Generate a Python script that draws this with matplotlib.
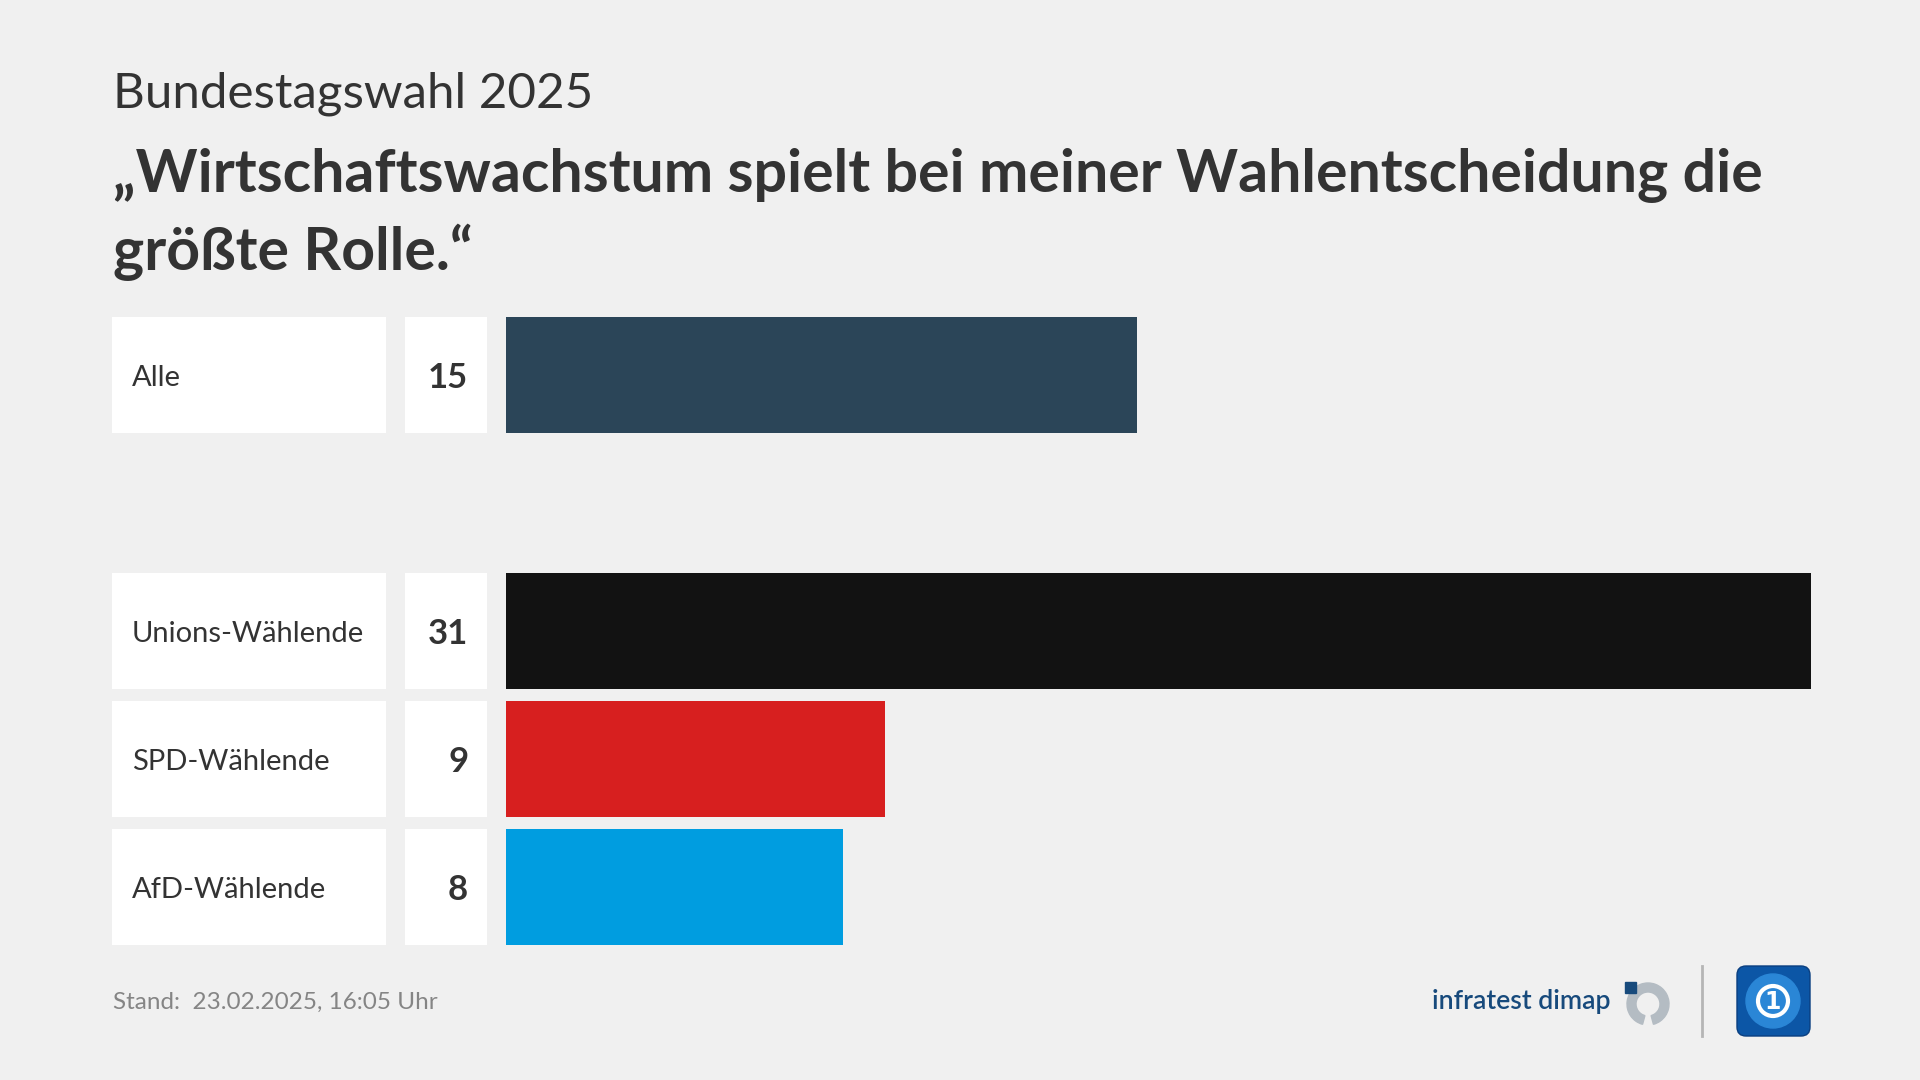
import matplotlib.pyplot as plt
from matplotlib.patches import FancyBboxPatch, Wedge, Rectangle, Circle

# data
categories = ["Alle", "Unions-Wählende", "SPD-Wählende", "AfD-Wählende"]
values = [15, 31, 9, 8]
slots = [0, 2, 3, 4]          # empty slot between "Alle" and the party rows
bar_colors = ["#2b4558", "#121212", "#d71f1f", "#009de0"]

subtitle = "Bundestagswahl 2025"
title_lines = ["„Wirtschaftswachstum spielt bei meiner Wahlentscheidung die",
               "größte Rolle.“"]
footer = "Stand:  23.02.2025, 16:05 Uhr"

BG = "#f0f0f0"
TXT = "#333333"
FONT = "Lato"

fig = plt.figure(figsize=(19.2, 10.8), dpi=100, facecolor=BG)

W, H = 1920, 1080
def rect(x0, x1, y0, y1):
    return [x0 / W, 1 - y1 / H, (x1 - x0) / W, (y1 - y0) / H]

y_top, y_bot = 311, 951
bar_h = 0.906

ax_lab = fig.add_axes(rect(112, 386, y_top, y_bot))
ax_val = fig.add_axes(rect(405, 487, y_top, y_bot))
ax_bar = fig.add_axes(rect(506, 1811, y_top, y_bot))

for ax in (ax_lab, ax_val, ax_bar):
    ax.set_ylim(4.5, -0.5)
    ax.axis("off")
    ax.set_facecolor("none")

# label boxes
ax_lab.barh(slots, [1] * len(slots), height=bar_h, color="white")
ax_lab.set_xlim(0, 1)
for s, name in zip(slots, categories):
    ax_lab.text(0.073, s + 0.02, name, ha="left", va="center", fontsize=21,
                color=TXT, family=FONT)

# value boxes
ax_val.barh(slots, [1] * len(slots), height=bar_h, color="white")
ax_val.set_xlim(0, 1)
for s, v in zip(slots, values):
    ax_val.text(0.77, s + 0.02, str(v), ha="right", va="center", fontsize=25,
                color=TXT, family=FONT, fontweight="bold")

# bars
ax_bar.barh(slots, values, height=bar_h, color=bar_colors)
ax_bar.set_xlim(0, max(values))

# titles
fig.text(113 / W, 1 - 107 / H, subtitle, ha="left", va="baseline",
         fontsize=35.5, color=TXT, family=FONT)
fig.text(113 / W, 1 - 192 / H, title_lines[0], ha="left", va="baseline",
         fontsize=42.5, color=TXT, family=FONT, fontweight="bold")
fig.text(113 / W, 1 - 270 / H, title_lines[1], ha="left", va="baseline",
         fontsize=42.5, color=TXT, family=FONT, fontweight="bold")

# footer
fig.text(113 / W, 1 - 1009 / H, footer, ha="left", va="baseline",
         fontsize=17.5, color="#858585", family=FONT)

# logos
ov = fig.add_axes([0, 0, 1, 1])
ov.set_xlim(0, W)
ov.set_ylim(H, 0)
ov.axis("off")
ov.set_facecolor("none")

ov.text(1611, 1009, "infratest dimap", ha="right", va="baseline",
        fontsize=19.2, color="#174a7c", family=FONT, fontweight="semibold")
ov.add_patch(Wedge((1648, 1004), 21, -255, 75, width=9, color="#b4bcc3"))
ov.add_patch(Rectangle((1625, 982), 11, 11, color="#174a7c"))

ov.plot([1702, 1702], [966, 1036], color="#b5b5b5", lw=2)

ov.add_patch(FancyBboxPatch((1740, 969), 67, 64,
                            boxstyle="round,pad=3,rounding_size=9",
                            facecolor="#0c56a6", edgecolor="#0a3f80", lw=1))
ov.add_patch(Circle((1773, 1001), 27, color="#2a86d6"))
ov.add_patch(Circle((1773, 1001), 15, facecolor="none", edgecolor="white", lw=3))
ov.text(1773, 1002, "1", ha="center", va="center", fontsize=17,
        color="white", family="DejaVu Sans", fontweight="bold")

fig.savefig("out.png", dpi=100, facecolor=BG)
